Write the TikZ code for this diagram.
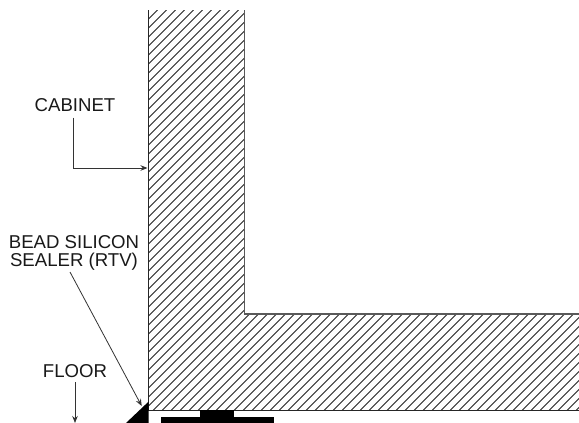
\documentclass[tikz,border=0pt]{standalone}
\usepackage{fontspec}
\setmainfont{Liberation Sans}
\usetikzlibrary{arrows.meta}
\tikzset{
  wall/.style={line width=1pt,black!85},
  innerwall/.style={line width=1.1pt,black!65},
  hatchline/.style={line width=0.8pt,black!85},
  leader/.style={line width=0.8pt,black!80,-{Stealth[length=7pt,width=5.5pt]}},
  lbl/.style={font=\fontsize{18.6}{18}\selectfont,inner sep=0pt,anchor=center,align=center,text=black!90}
}
\begin{document}
\begin{tikzpicture}[x=1pt,y=-1pt]
\useasboundingbox (0,0) rectangle (579,423);
\fill[white] (0,0) rectangle (579,423);
\begin{scope}
\clip (148.5,10) -- (244.5,10) -- (244.5,314) -- (579,314) -- (579,410.5) -- (148.5,410.5) -- cycle;
\foreach \k in {0,...,98}{
  \pgfmathsetmacro{\xs}{148.5+9*\k}
  \draw[hatchline] (\xs,10) -- ++(-420,420);
}
\end{scope}
\coordinate (wt) at (148.5,10);
\coordinate (wb) at (148.5,410.5);
\coordinate (wr) at (579,410.5);
\coordinate (it) at (244.5,10);
\coordinate (ic) at (244.5,314);
\coordinate (ir) at (579,314);
\draw[wall] (wt) -- (wb) -- (wr);
\draw[innerwall] (it) -- (ic) -- (ir);
\fill (148.7,401.5) -- (148.7,423) -- (126,423) -- cycle;
\fill (161,417) rectangle (274,423);
\fill (200,410) rectangle (234,417);
\node[lbl] (cab) at (75,105.5) {CABINET};
\node[lbl] (bead) at (74,253) {BEAD SILICON\\SEALER (RTV)};
\node[lbl] (floor) at (75,371) {FLOOR};
\coordinate (cabstart) at (73.5,117.5);
\coordinate (sealstart) at (70,272);
\coordinate (floorstart) at (75,382);
\coordinate (cabtip) at (147.5,168);
\coordinate (sealtip) at (141.7,406);
\coordinate (floortip) at (75,423);
\draw[leader] (cabstart) |- (cabtip);
\draw[leader] (sealstart) -- (sealtip);
\draw[leader] (floorstart) -- (floortip);
\end{tikzpicture}
\end{document}
